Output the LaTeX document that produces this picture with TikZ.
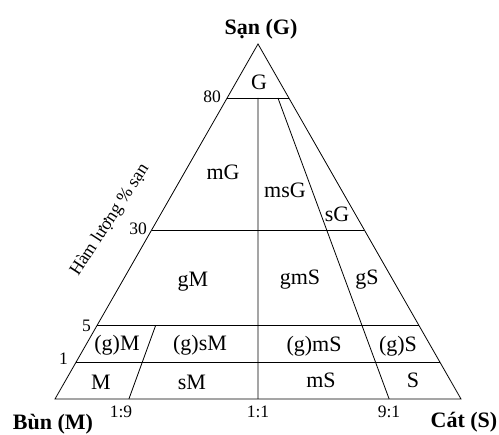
\documentclass[tikz,border=0pt]{standalone}
\usepackage{fontspec}
\setmainfont{Liberation Serif}
\usetikzlibrary{calc}
\tikzset{
  edge/.style={line width=0.8pt, black},
  zone/.style={font=\fontsize{22}{24}\selectfont, anchor=base, inner sep=0pt},
  tick/.style={font=\fontsize{17.5}{19}\selectfont, anchor=base, inner sep=0pt},
  pole/.style={font=\fontsize{22}{24}\selectfont\bfseries, anchor=base, inner sep=0pt},
  axislabel/.style={font=\fontsize{18}{20}\selectfont, inner sep=0pt}
}
\begin{document}
\begin{tikzpicture}[x=1pt,y=-1pt]
\useasboundingbox (0,0) rectangle (499,435);
% corners
\coordinate (A) at (55,399);
\coordinate (B) at (461,399);
\coordinate (C) at (258,44);
% horizontal levels
\coordinate (L80) at ($(C)!0.152!(A)$);
\coordinate (R80) at ($(C)!0.152!(B)$);
\coordinate (L30) at ($(C)!0.524!(A)$);
\coordinate (R30) at ($(C)!0.524!(B)$);
\coordinate (L5) at ($(C)!0.793!(A)$);
\coordinate (R5) at ($(C)!0.793!(B)$);
\coordinate (L1) at ($(C)!0.896!(A)$);
\coordinate (R1) at ($(C)!0.896!(B)$);
% ratio lines
\coordinate (V1) at ($(L80)!0.5!(R80)$);
\coordinate (V2) at ($(A)!0.5!(B)$);
\coordinate (P19) at ($(A)!0.182!(B)$);
\coordinate (Q19) at ($(P19)!0.207!(C)$);
\coordinate (P91) at ($(A)!0.823!(B)$);
\coordinate (Q91) at ($(P91)!0.848!(C)$);

\draw[edge] (A) -- (B) -- (C) -- cycle;
\draw[edge] (L80) -- (R80);
\draw[edge] (L30) -- (R30);
\draw[edge] (L5) -- (R5);
\draw[edge] (L1) -- (R1);
\draw[edge] (V1) -- (V2);
\draw[edge] (P19) -- (Q19);
\draw[edge] (P91) -- (Q91);

% pole labels
\node[pole] (nG) at (261,35) {Sạn (G)};
\node[pole] (nM) at (53,430) {Bùn (M)};
\node[pole] (nS) at (464,428) {Cát (S)};

% tick labels
\node[tick, anchor=base east] (t80) at (221,103) {80};
\node[tick, anchor=base east] (t30) at (147,235) {30};
\node[tick, anchor=base east] (t5) at (91,332) {5};
\node[tick, anchor=base east] (t1) at (68,365) {1};
\node[tick] (r19) at (121,418) {1:9};
\node[tick] (r11) at (258,418) {1:1};
\node[tick] (r91) at (389,418) {9:1};

\node[axislabel, rotate=57] (ax) at (110,220) {Hàm lượng \% sạn};

% zone labels
\node[zone] (zG) at (259,90) {G};
\node[zone] (zmG) at (223,180) {mG};
\node[zone] (zmsG) at (285,198) {msG};
\node[zone] (zsG) at (337,222) {sG};
\node[zone] (zgM) at (193,287) {gM};
\node[zone] (zgmS) at (300,285) {gmS};
\node[zone] (zgS) at (367,285) {gS};
\node[zone] (zgM2) at (117,351) {(g)M};
\node[zone] (zgsM) at (200,351) {(g)sM};
\node[zone] (zgmS2) at (314,352) {(g)mS};
\node[zone] (zgS2) at (398,352) {(g)S};
\node[zone] (zM) at (101,390) {M};
\node[zone] (zsM) at (192,390) {sM};
\node[zone] (zmS) at (321,388) {mS};
\node[zone] (zS) at (413,388) {S};
\end{tikzpicture}
\end{document}
